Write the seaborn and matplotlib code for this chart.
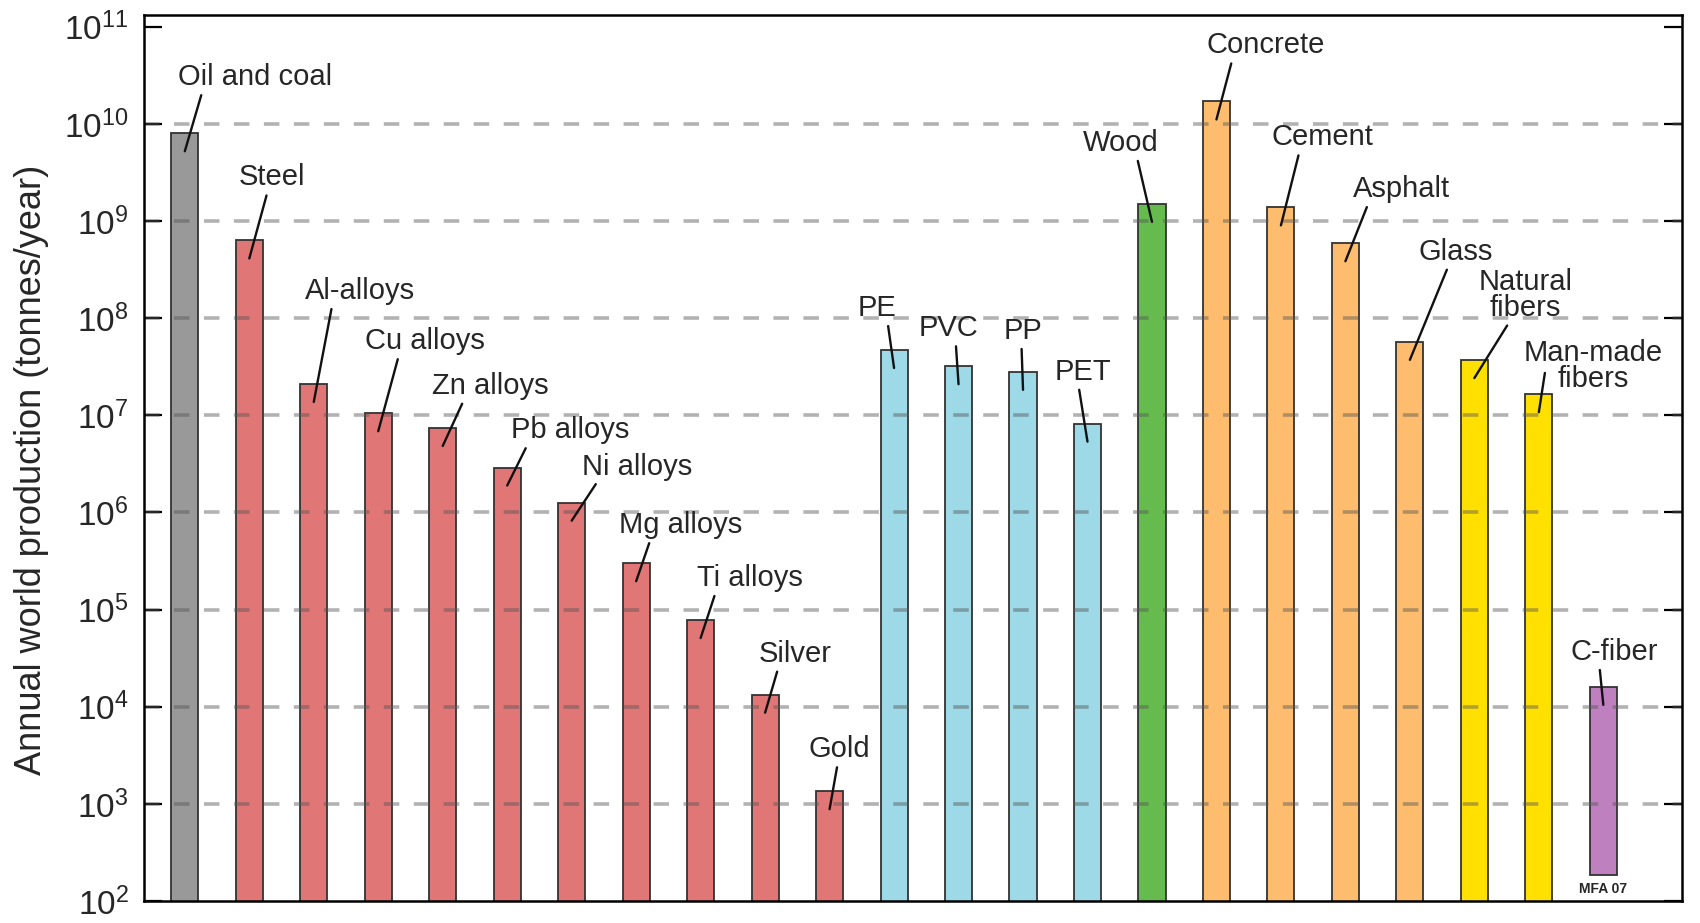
import numpy as np
import pandas as pd
import matplotlib
matplotlib.use("Agg")
import matplotlib.pyplot as plt
import matplotlib.transforms as mtransforms
from matplotlib.ticker import LogLocator, NullLocator
import seaborn as sns

# Data (tonnes/year)
materials = ["Oil and coal", "Steel", "Al-alloys", "Cu alloys", "Zn alloys", "Pb alloys",
             "Ni alloys", "Mg alloys", "Ti alloys", "Silver", "Gold",
             "PE", "PVC", "PP", "PET", "Wood",
             "Concrete", "Cement", "Asphalt", "Glass",
             "Natural\nfibers", "Man-made\nfibers", "C-fiber"]
production = [8.0e9, 6.3e8, 2.1e7, 1.05e7, 7.4e6, 2.9e6,
              1.26e6, 3.0e5, 7.8e4, 1.33e4, 1.35e3,
              4.7e7, 3.2e7, 2.8e7, 8.2e6, 1.5e9,
              1.7e10, 1.38e9, 5.9e8, 5.7e7,
              3.7e7, 1.65e7, 1.6e4]
groups = ["fuel"] + ["metal"] * 10 + ["polymer"] * 4 + ["natural"] + \
         ["ceramic"] * 4 + ["fiber"] * 2 + ["composite"]
cfiber_base = 186  # C-fiber bar starts above the axis floor

group_colors = {"fuel": "#999999", "metal": "#E07676", "polymer": "#9DD9E6",
                "natural": "#66BB4E", "ceramic": "#FDBC6E", "fiber": "#FFE000",
                "composite": "#BF80BF"}

# label placement: text centre offset (pixels) from leader-line tip,
# and where on the text box the leader line starts
label_offsets = [(70, 74), (23, 81), (46, 111), (47, 90), (48, 60), (63, 55),
                 (65, 54), (44, 56), (49, 60), (30, 59), (10, 60),
                 (-17, 60), (-10, 56), (0, 59), (-5, 70), (-31, 79),
                 (49, 74), (42, 88), (56, 72), (46, 108),
                 (51, 83), (54, 46), (11, 53)]
line_starts = [(0.16, 0), (0.43, 0), (0.25, 0), (0.28, 0), (0.27, 0), (0.14, 0),
               (0.15, 0), (0.26, 0), (0.18, 0), (0.27, 0), (0.47, 0),
               (0.77, 0), (0.62, 0), (0.46, 0), (0.43, 0), (0.71, 0),
               (0.22, 0), (0.27, 0), (0.16, 0), (0.40, 0),
               (0.33, 0), (0.16, 0.45), (0.33, 0)]

df = pd.DataFrame({"material": materials, "production": production, "group": groups})
bar_colors = [group_colors[g] for g in groups]

sns.set_theme(style="white")
plt.rcParams["font.family"] = ["Liberation Sans", "DejaVu Sans"]
plt.rcParams["mathtext.default"] = "regular"

fig = plt.figure(figsize=(17, 9.23), dpi=100)
ax = fig.add_axes([0.0847, 0.0238, 0.9047, 0.9599])
ax.set_yscale("log")

sns.barplot(data=df, x="material", y="production", hue="material", order=materials,
            hue_order=materials, palette=bar_colors, legend=False, width=0.42,
            saturation=1, edgecolor="#333333", linewidth=1.3, ax=ax, zorder=2)

# lift the C-fiber bar off the floor
ci = materials.index("C-fiber")
for p in ax.patches:
    if abs(p.get_x() + p.get_width() / 2 - ci) < 0.05:
        p.set_y(cfiber_base)
        p.set_height(production[ci] - cfiber_base)

ax.set_xlim(-0.633, 23.22)
ax.set_ylim(1e2, 10 ** 11.12)
ax.set_xticks([])
ax.set_xlabel("")

# dashed decade lines drawn over the bars
for d in 10.0 ** np.arange(3, 11):
    ax.axhline(d, color="#555555", alpha=0.45, lw=2.6, ls=(0, (4.3, 4.0)), zorder=3)

ax.yaxis.set_major_locator(LogLocator(base=10, numticks=15))
ax.yaxis.set_minor_locator(NullLocator())
ax.tick_params(axis="y", which="major", direction="in", length=13, width=1.6,
               left=True, right=True, labelright=False, labelsize=24, pad=11,
               color="black")
for s in ax.spines.values():
    s.set_color("black")
    s.set_linewidth(1.8)
    s.set_zorder(5)

ax.set_ylabel("Annual world production (tonnes/year)", fontsize=26)
ax.yaxis.set_label_coords(-0.0618, 0.487)

# labels with leader lines
for i, (name, val, off, rp) in enumerate(zip(materials, production, label_offsets, line_starts)):
    tip = val * 10 ** -0.185
    ax.annotate(name, xy=(i, tip), xytext=off, textcoords="offset pixels",
                ha="center", va="center", fontsize=21, linespacing=0.9,
                zorder=6,
                arrowprops=dict(arrowstyle="-", color="#111111", lw=1.7,
                                relpos=rp, patchA=None, shrinkA=3, shrinkB=0))

trans = mtransforms.blended_transform_factory(ax.transData, ax.transAxes)
ax.text(ci, 0.0135, "MFA 07", transform=trans, ha="center", va="center",
        fontsize=10, fontweight="bold")

fig.savefig("out.png", dpi=100)
